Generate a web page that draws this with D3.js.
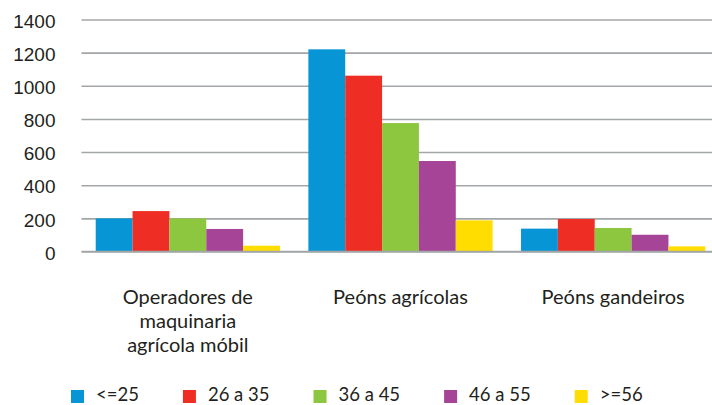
<!DOCTYPE html>
<html>
<head>
<meta charset="utf-8">
<script src="https://cdn.jsdelivr.net/npm/d3@7"></script>
<style>
  body { margin: 0; background: #fff; overflow: hidden; }
  svg { display: block; font-family: Lato, "Open Sans", sans-serif; }
  .tick text { font-size: 19px; fill: #231f20; }
  .catLabel { font-size: 20px; fill: #231f20; }
  .legend text { font-size: 18.5px; fill: #231f20; }
</style>
</head>
<body>
<script>

// data
var categories = ["Operadores de\nmaquinaria\nagrícola móbil", "Peóns agrícolas", "Peóns gandeiros"];
var ageGroups = ["<=25", "26 a 35", "36 a 45", "46 a 55", ">=56"];
var colors = ["#0895d6", "#ee2e24", "#8dc63f", "#a64597", "#ffdd00"];

var under25 = [200, 1220, 138];
var age26to35 = [244, 1061, 196];
var age36to45 = [200, 775, 142];
var age46to55 = [136, 546, 101];
var over56 = [35, 188, 31];

var yTicks = [0, 200, 400, 600, 800, 1000, 1200, 1400];

var series = [under25, age26to35, age36to45, age46to55, over56];

var width = 712, height = 405;
// plot area runs a little past the right edge, as in the original
var margin = {left: 81.5, right: -7.5, top: 19.5, bottom: 153.5};

var svg = d3.select("body").append("svg")
	.attr("width", width).attr("height", height);

var x0 = d3.scaleBand()
	.domain(categories)
	.range([margin.left, width - margin.right])
	.paddingInner(0.1335)
	.paddingOuter(0.0668);

var x1 = d3.scaleBand()
	.domain(ageGroups)
	.range([0, x0.bandwidth()]);

var y = d3.scaleLinear()
	.domain([0, 1400])
	.range([height - margin.bottom, margin.top]);

var color = d3.scaleOrdinal().domain(ageGroups).range(colors);

// gridlines + y labels
var yAxis = d3.axisLeft(y)
	.tickValues(yTicks)
	.tickSize(-(width - margin.left - margin.right))
	.tickPadding(26)
	.tickFormat(d3.format("d"));

var yg = svg.append("g")
	.attr("class", "y axis")
	.attr("transform", "translate(" + margin.left + ",0)")
	.call(yAxis);
yg.select(".domain").remove();
yg.selectAll(".tick line").attr("stroke", "#a3a6a8").attr("stroke-width", 1.6);
yg.selectAll(".tick text").attr("dy", "0.62em").attr("y", -4);

// bars
var rows = [];
categories.forEach(function(c, i){
	ageGroups.forEach(function(g, j){
		rows.push({cat: c, group: g, value: series[j][i]});
	});
});

svg.append("g").selectAll("rect").data(rows)
	.enter().append("rect")
	.attr("x", function(d){ return x0(d.cat) + x1(d.group); })
	.attr("y", function(d){ return y(d.value); })
	.attr("width", x1.bandwidth())
	.attr("height", function(d){ return y(0) - y(d.value); })
	.style("fill", function(d){ return color(d.group); });

// redraw the zero line on top of the bars
svg.append("line")
	.attr("x1", margin.left).attr("x2", width - margin.right)
	.attr("y1", y(0)).attr("y2", y(0))
	.attr("stroke", "#a3a6a8").attr("stroke-width", 1.6);

// category labels
var catText = svg.append("g").selectAll("text").data(categories)
	.enter().append("text")
	.attr("class", "catLabel")
	.attr("text-anchor", "middle")
	.attr("x", function(d){ return x0(d) + x0.bandwidth() / 2; })
	.attr("y", 304);

catText.selectAll("tspan")
	.data(function(d){ return d.split("\n"); })
	.enter().append("tspan")
	.attr("x", function(){ return this.parentNode.getAttribute("x"); })
	.attr("dy", function(d, i){ return i ? 24 : 0; })
	.text(function(d){ return d; });

// legend
var legend = svg.append("g").attr("class", "legend");
var lx = 71;
ageGroups.forEach(function(g){
	legend.append("rect")
		.attr("x", lx).attr("y", 390)
		.attr("width", 13).attr("height", 13)
		.style("fill", color(g));
	var t = legend.append("text")
		.attr("x", lx + 25).attr("y", 401)
		.text(g);
	lx = lx + 25 + t.node().getComputedTextLength() + 44;
});

</script>
</body>
</html>
